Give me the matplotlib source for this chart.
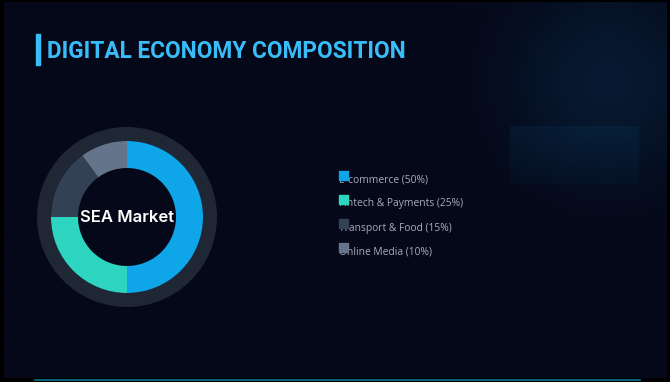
import matplotlib
matplotlib.use('agg')
import matplotlib.pyplot as plt
from matplotlib.patches import Rectangle
import numpy as np

# segment data
labels = ['E-commerce', 'Fintech & Payments', 'Transport & Food', 'Online Media']
shares = [50, 25, 15, 10]
colors = ['#0ea5e9', '#2dd4bf', '#334155', '#64748b']
center_label = 'SEA Market'
title = 'DIGITAL ECONOMY COMPOSITION'

W, H = 670, 382
bg = '#050818'

fig = plt.figure(figsize=(W / 100, H / 100), dpi=100, facecolor='black')
ax = fig.add_axes([0, 0, 1, 1])
ax.set_xlim(0, W)
ax.set_ylim(H, 0)
ax.axis('off')

# panel background with a soft glow in the upper right
yy, xx = np.mgrid[0:H, 0:W]
base = np.array([5, 8, 24]) / 255.0
glow = np.array([8, 38, 66]) / 255.0
g = np.exp(-(((xx - 610) / 100.0) ** 2 + ((yy - 80) / 100.0) ** 2))
box = ((xx > 510) & (xx < 642) & (yy > 125) & (yy < 185)).astype(float)
box = box * np.exp(-((yy - 125) / 60.0) ** 2) * 0.3
w = np.clip(0.6 * g + box, 0, 1)[..., None]
img = base * (1 - w) + glow * w
ax.imshow(img, extent=[4, 667, 378, 2], zorder=0, aspect='auto')

# bottom accent line
ax.plot([35, 640], [379.5, 379.5], color='#0e7490', lw=1.2, zorder=1)

# title with accent bar
ax.add_patch(Rectangle((36, 34), 4, 31, color='#38bdf8', zorder=2))
ax.text(47, 51, title, color='#38bdf8', fontsize=16.3, fontweight='bold',
        family=['Roboto', 'DejaVu Sans'], va='center', ha='left', zorder=2)

# legend
for i, (lab, val, c) in enumerate(zip(labels, shares, colors)):
    y = 179.5 + i * 24.3
    ax.text(339, y, f'{lab} ({val}%)', color='#a3adbf', fontsize=7.4,
            family=['Open Sans', 'DejaVu Sans'], va='center', ha='left', zorder=2)
    ax.add_patch(Rectangle((339, y - 9), 9, 9, color=c, zorder=3))

# donut
cx, cy, R = 127, 217, 92
ad = fig.add_axes([(cx - R) / W, 1 - (cy + R) / H, 2 * R / W, 2 * R / H])
ad.pie([1], radius=90, colors=['#1f2634'], wedgeprops=dict(width=14, linewidth=0))
ad.pie(shares, radius=76, colors=colors, startangle=90, counterclock=False,
       wedgeprops=dict(width=27, linewidth=0))
ad.set_xlim(-R, R)
ad.set_ylim(-R, R)
ad.set_aspect('equal')
ad.axis('off')
ad.text(0, 0, center_label, color='white', fontsize=12, fontweight='semibold',
        family=['Inter', 'DejaVu Sans'], ha='center', va='center')

fig.savefig('out.png', dpi=100, facecolor='black')
